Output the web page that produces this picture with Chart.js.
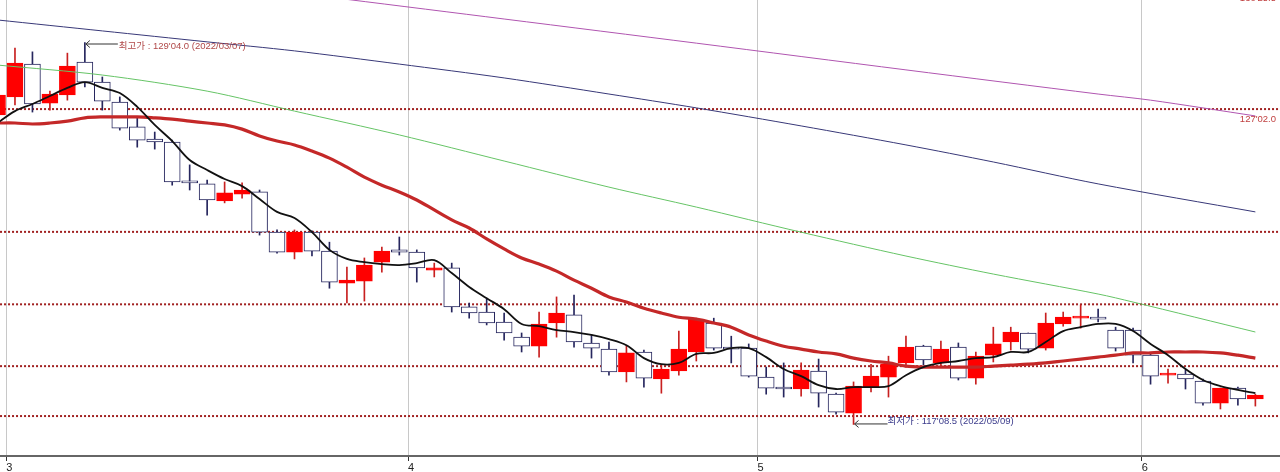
<!DOCTYPE html>
<html lang="ko">
<head>
<meta charset="utf-8">
<title>Daily chart</title>
<script src="https://cdn.jsdelivr.net/npm/chart.js@4.4.1/dist/chart.umd.min.js"></script>
<style>
    html, body { margin: 0; padding: 0; background: #fff; overflow: hidden; }
    #wrap { width: 1280px; height: 472px; }
</style>
</head>
<body>
<div id="wrap"><canvas id="chart" width="1280" height="472"></canvas></div>
<script>
// ======================= DATA (daily candles, index = trading day) =======================

const opens = [
    126.88, 127.44, 128.46, 127.25, 127.50, 128.52, 127.90, 127.28, 126.51, 126.13,
    126.04, 124.80, 124.74, 124.21, 124.42, 124.49, 123.24, 122.62, 123.24, 122.65,
    121.66, 121.72, 122.31, 122.69, 122.62, 122.06, 122.13, 120.92, 120.76, 120.45,
    119.98, 119.70, 120.42, 120.67, 119.80, 119.61, 118.90, 119.52, 118.68, 118.93,
    119.52, 120.42, 119.67, 119.64, 118.74, 118.40, 118.37, 118.93, 118.21, 117.62,
    118.43, 118.74, 119.18, 119.70, 119.18, 119.67, 118.71, 119.42, 119.83, 120.11,
    119.64, 120.39, 120.57, 120.57, 120.20, 120.20, 119.42, 118.80, 118.83, 118.62,
    117.93, 118.40, 118.06
];
const highs = [
    127.72, 128.96, 128.84, 127.62, 128.80, 129.13, 128.06, 127.44, 126.79, 126.35,
    126.10, 125.33, 124.86, 124.80, 124.77, 124.55, 123.31, 123.31, 123.28, 122.93,
    122.16, 122.44, 122.78, 123.09, 122.69, 122.28, 122.28, 121.04, 121.19, 120.73,
    120.11, 120.76, 121.23, 121.29, 120.05, 119.83, 119.73, 119.58, 119.11, 120.17,
    120.57, 120.57, 120.01, 119.77, 119.05, 119.18, 119.18, 119.30, 118.24, 118.59,
    119.14, 119.39, 120.01, 119.73, 119.86, 119.80, 119.52, 120.29, 120.29, 120.11,
    120.73, 120.76, 120.98, 120.85, 120.29, 120.26, 119.49, 118.99, 118.96, 118.68,
    118.40, 118.43, 118.21
];
const lows = [
    126.72, 127.19, 126.97, 127.03, 127.34, 127.75, 127.03, 126.41, 125.88, 125.82,
    124.70, 124.55, 123.77, 124.15, 124.30, 123.15, 122.59, 122.41, 122.50, 121.50,
    121.04, 121.10, 122.00, 122.53, 121.69, 121.85, 120.76, 120.57, 120.36, 119.89,
    119.52, 119.36, 119.98, 119.67, 119.33, 118.80, 118.59, 118.43, 118.24, 118.80,
    119.24, 119.58, 119.18, 118.74, 118.21, 118.12, 118.15, 117.81, 117.59, 117.27,
    118.28, 118.12, 119.05, 119.11, 119.11, 118.65, 118.52, 119.21, 119.58, 119.49,
    119.58, 120.32, 120.26, 120.45, 119.55, 119.18, 118.52, 118.55, 118.37, 117.87,
    117.75, 117.87, 117.84
];
const closes = [
    127.50, 128.49, 127.22, 127.53, 128.40, 127.90, 127.31, 126.47, 126.10, 126.04,
    124.80, 124.77, 124.24, 124.46, 124.55, 123.24, 122.62, 123.24, 122.65, 121.69,
    121.75, 122.22, 122.65, 122.62, 122.13, 122.13, 120.92, 120.73, 120.42, 120.11,
    119.70, 120.39, 120.73, 119.83, 119.64, 118.90, 119.49, 118.71, 118.99, 119.61,
    120.54, 119.64, 119.61, 118.77, 118.40, 118.37, 118.96, 118.24, 117.65, 118.46,
    118.77, 119.14, 119.67, 119.27, 119.61, 118.71, 119.39, 119.77, 120.14, 119.61,
    120.42, 120.60, 120.60, 120.54, 119.64, 119.42, 118.77, 118.83, 118.68, 117.93,
    118.40, 118.06, 118.18
];

// short moving average (black) and 20-day (thick red), one value per candle
const ma5 = [
    126.63, 127.00, 127.22, 127.47, 127.72, 127.90, 127.72, 127.56, 127.13, 126.57,
    126.07, 125.48, 125.17, 124.89, 124.67, 124.27, 123.87, 123.68, 123.24, 122.69,
    122.41, 122.31, 122.25, 122.22, 122.28, 122.37, 121.97, 121.54, 121.19, 120.85,
    120.39, 120.32, 120.20, 120.14, 120.05, 119.92, 119.73, 119.33, 119.14, 119.18,
    119.46, 119.49, 119.64, 119.64, 119.36, 118.99, 118.77, 118.49, 118.37, 118.43,
    118.43, 118.46, 118.80, 119.05, 119.18, 119.24, 119.33, 119.36, 119.52, 119.52,
    119.83, 120.17, 120.29, 120.39, 120.39, 120.17, 119.77, 119.42, 118.99, 118.65,
    118.46, 118.34, 118.24
];
const ma20 = [
    126.63, 126.63, 126.60, 126.63, 126.69, 126.79, 126.82, 126.82, 126.82, 126.79,
    126.75, 126.69, 126.63, 126.57, 126.44, 126.23, 126.07, 125.95, 125.76, 125.54,
    125.26, 124.95, 124.70, 124.49, 124.24, 123.93, 123.62, 123.37, 123.03, 122.72,
    122.44, 122.25, 122.03, 121.75, 121.50, 121.23, 121.07, 120.88, 120.73, 120.60,
    120.54, 120.42, 120.29, 120.05, 119.86, 119.70, 119.61, 119.52, 119.46, 119.33,
    119.24, 119.18, 119.08, 119.05, 119.05, 119.05, 119.05, 119.08, 119.11, 119.14,
    119.18, 119.24, 119.30, 119.36, 119.42, 119.49, 119.49, 119.52, 119.52, 119.52,
    119.49, 119.42, 119.33
];

// long moving averages, read at a few candles
const maGreenIdx = [0, 6, 12, 17, 23, 29, 35, 40, 46, 52, 57, 63, 65, 72];
const maGreen = [128.43, 128.12, 127.62, 127.00, 126.26, 125.45, 124.64, 124.02, 123.24, 122.50, 121.94, 121.32, 121.07, 120.14];
const maNavyIdx = [0, 6, 12, 17, 23, 29, 35, 40, 46, 52, 57, 63, 72];
const maNavy = [129.83, 129.49, 129.15, 128.87, 128.46, 128.03, 127.53, 127.10, 126.54, 125.95, 125.42, 124.74, 123.87];
const maPurpleIdx = [0, 12, 20, 29, 40, 52, 63, 66, 72];
const maPurple = [131.82, 131.01, 130.47, 129.86, 129.11, 128.28, 127.53, 127.34, 126.85];

// horizontal dotted levels
const levels = [130.797, 127.0625, 123.25, 121.00, 119.08, 117.53];
const levelLabels = ["130'25.5", "127'02.0"];

// month ticks (between last day of month and first of next)
const monthTickPos = [0.5, 23.5, 43.5, 65.5];
const monthLabels = ['3', '4', '5', '6'];

// high / low notes
const highIdx = 5;
const highText = "최고가 : 129'04.0 (2022/03/07)";
const lowIdx = 49;
const lowText = "최저가 : 117'08.5 (2022/05/09)";

// ======================= STYLE =======================

const UP = '#ff0000';
const UP_WICK = '#c82020';
const DOWN_EDGE = '#26265e';
const X_MIN = 0.143, X_MAX = 73.41;
const Y_MIN = 116.29, Y_MAX = 130.45;
const NOTE_FONT = "9.5px 'Liberation Sans', 'Noto Sans CJK KR', sans-serif";

const isUp = i => closes[i] >= opens[i];

// ======================= DATASETS =======================

const bodies = opens.map((o, i) => ({ x: i, y: [o, closes[i]] }));
const wicks = lows.map((l, i) => ({ x: i, y: [l, highs[i]] }));
const pts = (idx, vals) => vals.map((v, k) => ({ x: idx[k], y: v }));
const perCandle = vals => vals.map((v, i) => ({ x: i, y: v }));

function lineSet(data, color, width, order, tension) {
    return {
        type: 'line', data, borderColor: color, borderWidth: width,
        pointRadius: 0, tension: tension, order: order, fill: false
    };
}

const levelSets = levels.map(v => ({
    type: 'line',
    data: [{ x: -1, y: v }, { x: 75, y: v }],
    borderColor: '#a02020', borderWidth: 2, borderDash: [2, 2],
    pointRadius: 0, order: 5, fill: false
}));

// ======================= NOTES PLUGIN =======================

const notes = {
    id: 'notes',
    afterDatasetsDraw(chart) {
        const { ctx, chartArea } = chart;
        const xs = chart.scales.x, ys = chart.scales.y;
        ctx.save();
        ctx.font = NOTE_FONT;
        ctx.textBaseline = 'middle';
        ctx.lineWidth = 1;

        // high
        let x = xs.getPixelForValue(highIdx), y = ys.getPixelForValue(highs[highIdx]) + 1;
        drawArrow(ctx, x + 1, y, 32);
        ctx.fillStyle = '#b04848';
        ctx.textAlign = 'left';
        ctx.fillText(highText, x + 34, y + 3);

        // low
        x = xs.getPixelForValue(lowIdx); y = ys.getPixelForValue(lows[lowIdx]) - 1;
        drawArrow(ctx, x + 1, y, 33);
        ctx.fillStyle = '#3c3c8c';
        ctx.fillText(lowText, x + 34, y - 2);

        // level labels on the right
        ctx.fillStyle = '#c04040';
        ctx.textAlign = 'right';
        levelLabels.forEach((t, k) => {
            ctx.fillText(t, chartArea.right - 4, ys.getPixelForValue(levels[k]) + 10);
        });
        ctx.restore();
    }
};

function drawArrow(ctx, x, y, len) {
    ctx.strokeStyle = '#333';
    ctx.beginPath();
    ctx.moveTo(x + len, y + 0.5);
    ctx.lineTo(x, y + 0.5);
    ctx.moveTo(x + 4, y - 3);
    ctx.lineTo(x, y + 0.5);
    ctx.lineTo(x + 4, y + 4);
    ctx.stroke();
}

// ======================= CHART =======================

new Chart(document.getElementById('chart'), {
    type: 'bar',
    data: {
        datasets: [
            lineSet(perCandle(ma5), '#111111', 1.8, 0, 0.35),
            lineSet(perCandle(ma20), '#c42828', 3.2, 0, 0.35),
            lineSet(pts(maGreenIdx, maGreen), '#66c466', 1, 0, 0.3),
            lineSet(pts(maNavyIdx, maNavy), '#383878', 1, 0, 0.3),
            lineSet(pts(maPurpleIdx, maPurple), '#b055b0', 1, 0, 0.3),
            {
                data: bodies, grouped: false, order: 1,
                barThickness: 16, minBarLength: 2, borderWidth: 1, borderSkipped: false,
                backgroundColor: c => isUp(c.dataIndex) ? UP : '#ffffff',
                borderColor: c => isUp(c.dataIndex) ? UP : DOWN_EDGE
            },
            {
                data: wicks, grouped: false, order: 2,
                barThickness: 1, borderWidth: 0,
                backgroundColor: c => isUp(c.dataIndex) ? UP_WICK : DOWN_EDGE
            },
            ...levelSets
        ]
    },
    options: {
        responsive: false,
        animation: false,
        devicePixelRatio: 1,
        layout: { padding: 0 },
        plugins: { legend: { display: false }, tooltip: { enabled: false } },
        scales: {
            x: {
                type: 'linear', min: X_MIN, max: X_MAX, offset: false,
                afterBuildTicks: s => { s.ticks = monthTickPos.map(v => ({ value: v })); },
                afterFit: s => { s.height = 16; },
                ticks: {
                    autoSkip: false, maxRotation: 0, align: 'start', padding: 0,
                    color: '#222', font: { family: "'Liberation Sans', sans-serif", size: 11 },
                    callback: v => monthLabels[monthTickPos.indexOf(v)]
                },
                grid: { offset: false, color: '#c8c8c8', lineWidth: 1, tickLength: 5, tickColor: '#333' },
                border: { color: '#666', width: 2 }
            },
            y: { min: Y_MIN, max: Y_MAX, display: false }
        }
    },
    plugins: [notes]
});
</script>
</body>
</html>
